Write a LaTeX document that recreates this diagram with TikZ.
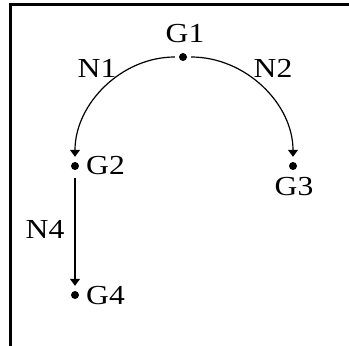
\documentclass[tikz,border=0pt]{standalone}
\usepackage{fontspec}
\setmainfont{Liberation Serif}
\newfontfamily\lblfont[FakeStretch=1.15]{Liberation Serif}
\usetikzlibrary{arrows.meta}
\begin{document}
\begin{tikzpicture}[x=1pt,y=-1pt,
  gdot/.style={circle,fill=black,inner sep=0pt,minimum size=8pt},
  lbl/.style={inner sep=0pt,font=\lblfont\fontsize{27.5}{27.5}\selectfont},
  conn/.style={line width=1.2pt,-{Triangle[length=7pt,width=10pt]},shorten <=4pt,shorten >=5pt}]
\useasboundingbox (0,0) rectangle (349,346);
\draw[line width=3pt] (10,346) -- (10,4.5) -- (349,4.5);
\node[gdot] (g1) at (183,57) {};
\node[gdot] (g2) at (75,166) {};
\node[gdot] (g3) at (293,166) {};
\node[gdot] (g4) at (75,295) {};
\node[lbl] (t1) at (185,34) {G1};
\node[lbl,anchor=west] (t2) at (86,166) {G2};
\node[lbl] (t3) at (294,187) {G3};
\node[lbl,anchor=west] (t4) at (86,296) {G4};
\node[lbl] (n1) at (97,68) {N1};
\node[lbl] (n2) at (273,68) {N2};
\node[lbl] (n4) at (45,229) {N4};
\draw[conn] (g1) to[out=180,in=90] (g2);
\draw[conn] (g1) to[out=0,in=90] (g3);
\draw[conn,shorten <=8pt] (g2) -- (g4);
\end{tikzpicture}
\end{document}
